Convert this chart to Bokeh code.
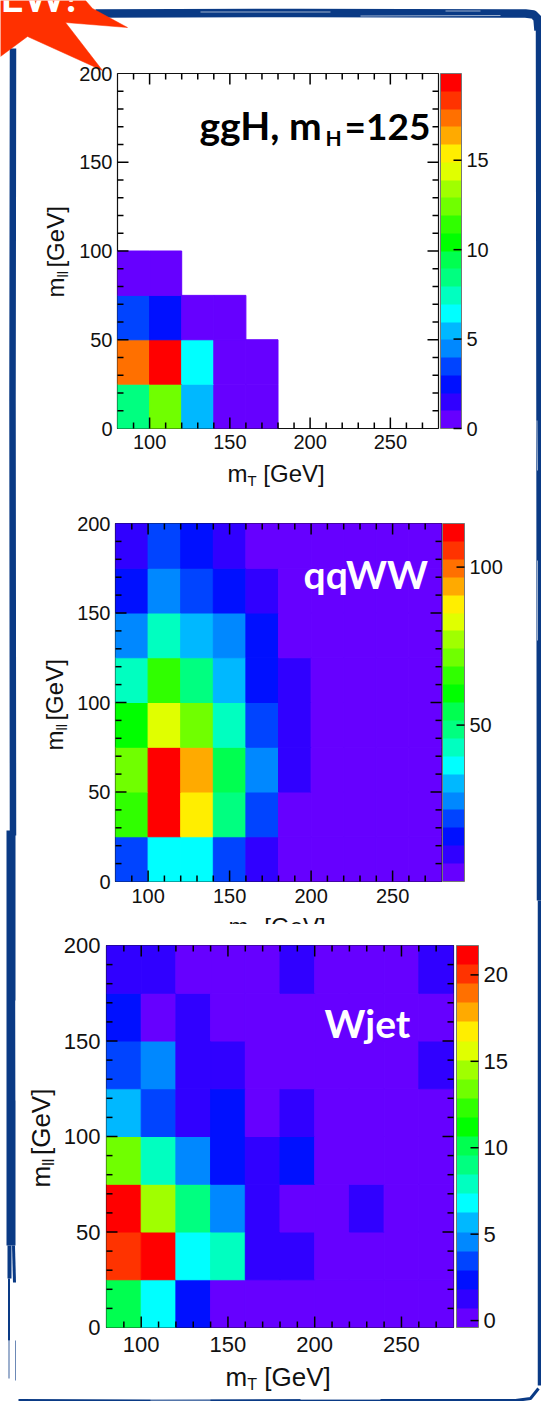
from bokeh.plotting import figure
from bokeh.embed import file_html
from bokeh.resources import INLINE
from bokeh.models import (ColorBar, LinearColorMapper, FixedTicker, LinearAxis,
                          ColumnDataSource)
from bokeh.core.properties import value
from bokeh.transform import transform
import math

PALETTE = ["#6600ff", "#3000ff", "#0010ff", "#0044ff", "#0088ff", "#00b8ff", "#00ffff",
           "#00ffc0", "#00ff80", "#00ff50", "#00ff00", "#30ff00", "#70ff00", "#a0ff00",
           "#e0ff00", "#ffee00", "#ffaa00", "#ff7000", "#ff3300", "#ff0000"]

MT_EDGES = [80, 100, 120, 140, 160, 180, 200, 220, 240, 260, 280]
MLL_EDGES = [0, 25, 50, 75, 100, 125, 150, 175, 200]
_ = None
# rows run from the lowest m_ll bin upward, columns from the lowest m_T bin
GGH = [
    [8.4, 12.4, 5.5, 0.5, 0.5, _, _, _, _, _],
    [17.4, 19.4, 6.4, 0.5, 0.5, _, _, _, _, _],
    [3.5, 2.5, 0.5, 0.5, _, _, _, _, _, _],
    [0.5, 0.5, _, _, _, _, _, _, _, _],
    [_, _, _, _, _, _, _, _, _, _],
    [_, _, _, _, _, _, _, _, _, _],
    [_, _, _, _, _, _, _, _, _, _],
    [_, _, _, _, _, _, _, _, _, _],
]
QQWW = [
    [20.3, 37.3, 37.3, 20.3, 9.0, 3.3, 3.3, 3.3, 3.3, 3.3],
    [65.7, 111, 88.3, 48.7, 20.3, 3.3, 3.3, 3.3, 3.3, 3.3],
    [71.3, 111, 94.0, 54.3, 26.0, 9.0, 3.3, 3.3, 3.3, 3.3],
    [60.0, 82.7, 71.3, 43.0, 20.3, 9.0, 3.3, 3.3, 3.3, 3.3],
    [43.0, 65.7, 48.7, 31.7, 14.7, 9.0, 3.3, 3.3, 3.3, 3.3],
    [26.0, 43.0, 31.7, 26.0, 14.7, 3.3, 3.3, 3.3, 3.3, 3.3],
    [14.7, 26.0, 20.3, 14.7, 9.0, 3.3, 3.3, 3.3, 3.3, 3.3],
    [9.0, 20.3, 14.7, 9.0, 3.3, 3.3, 3.3, 3.3, 3.3, 3.3],
]
WJET = [
    [10.1, 6.78, 2.36, 0.15, 0.15, 0.15, 0.15, 0.15, 0.15, 0.15],
    [20.0, 21.1, 6.78, 7.89, 1.26, 1.26, 0.15, 0.15, 0.15, 0.15],
    [21.1, 14.5, 8.99, 4.57, 1.26, 0.15, 0.15, 1.26, 0.15, 0.15],
    [13.4, 7.89, 4.57, 2.36, 1.26, 2.36, 0.15, 0.15, 0.15, 0.15],
    [5.68, 3.47, 1.26, 2.36, 0.15, 1.26, 0.15, 0.15, 0.15, 0.15],
    [3.47, 4.57, 1.26, 1.26, 0.15, 0.15, 0.15, 0.15, 0.15, 1.26],
    [2.36, 0.15, 1.26, 0.15, 0.15, 0.15, 0.15, 0.15, 0.15, 0.15],
    [1.26, 1.26, 0.15, 0.15, 0.15, 1.26, 0.15, 0.15, 0.15, 1.26],
]
MT_TICKS = [100, 150, 200, 250]
MLL_TICKS = [0, 50, 100, 150, 200]
MT_MINOR = [90, 110, 120, 130, 140, 160, 170, 180, 190, 210, 220, 230, 240, 260, 270]
MLL_MINOR = [10, 20, 30, 40, 60, 70, 80, 90, 110, 120, 130, 140, 160, 170, 180, 190]
GGH_Z = (0.0, 19.85)
QQWW_Z = (0.5, 113.8)
WJET_Z = (-0.4, 21.7)
GGH_ZTICKS = [0, 5, 10, 15]
QQWW_ZTICKS = [50, 100]
WJET_ZTICKS = [0, 5, 10, 15, 20]

SANS = value("Liberation Sans")
LATO = value("Lato")
# how far the page's baseline sits below the one asked for, per em
BASELINE_SHIFT = {"Liberation Sans": 0.33, "Lato": 0.45}
BLUE = "#0a3a85"
RED = "#ff3000"
INK = "#111111"
W, H = 541, 1401


def place(fig, left, top):
    fig.styles = {"position": "absolute", "left": f"{left}px", "top": f"{top}px"}


def page_figure():
    f = figure(width=W, height=H, x_range=(0, W), y_range=(H, 0), x_axis_type=None,
               y_axis_type=None, toolbar_location=None, output_backend="svg", min_border=0,
               background_fill_color=None, border_fill_color=None, outline_line_color=None)
    f.grid.visible = False
    place(f, 0, 0)
    return f


def pieces(f, x, y, parts, font, color=INK, angle=0.0, style="normal"):
    """Runs of text placed one after another, (text, size, drop, advance)."""
    ca, sa = math.cos(angle), math.sin(angle)
    k = BASELINE_SHIFT[font.value]
    for text, size, drop, adv in parts:
        d = drop - k * size
        f.text([x + d * sa], [y + d * ca], text=[text], text_font=font,
               text_font_size=f"{size}px", text_color=color, angle=angle,
               text_align="left", text_baseline="alphabetic", text_font_style=style)
        x += adv * ca
        y -= adv * sa


def xtitle(f, x, y, fs):
    pieces(f, x, y, [("m", fs, 0, 0.833 * fs), ("T", fs * 0.62, 4, 0.66 * fs),
                     ("[GeV]", fs, 0, 0)], SANS)


def ytitle(f, x, y, fs):
    pieces(f, x, y, [("m", fs, 0, 0.833 * fs), ("ll", fs * 0.62, 4, 0.415 * fs),
                     ("[GeV]", fs, 0, 0)], SANS, angle=math.pi / 2)


def panel(grid, zrange, zticks, frame, bar_w, bar_gap, tick_fs, bar_fs, standoff):
    fx, fy, fw, fh = frame
    pad_top = 30
    p = figure(frame_width=fw, frame_height=fh, x_range=(80, 280), y_range=(0, 200),
               x_axis_type=None, y_axis_type=None, toolbar_location=None, output_backend="svg",
               min_border_left=fx, min_border_top=pad_top, min_border_right=W - fx - fw,
               min_border_bottom=45, background_fill_color=None, border_fill_color=None,
               outline_line_color=INK, outline_line_width=1.2)
    p.grid.visible = False
    place(p, 0, fy - pad_top)
    mapper = LinearColorMapper(palette=PALETTE, low=zrange[0], high=zrange[1])
    cells = dict(l=[], r=[], b=[], t=[], v=[])
    for j, row in enumerate(grid):
        for i, v in enumerate(row):
            if v is None:
                continue
            cells["l"].append(MT_EDGES[i]); cells["r"].append(MT_EDGES[i + 1])
            cells["b"].append(MLL_EDGES[j]); cells["t"].append(MLL_EDGES[j + 1])
            cells["v"].append(v)
    p.quad(left="l", right="r", bottom="b", top="t", source=ColumnDataSource(cells),
           fill_color=transform("v", mapper), line_color=transform("v", mapper), line_width=1)

    # the axes give the labels; the inward ticks go on the top layer
    def ax(ticks, off):
        a = LinearAxis(ticker=FixedTicker(ticks=ticks))
        a.major_tick_in = a.major_tick_out = a.minor_tick_in = a.minor_tick_out = 0
        a.major_tick_line_color = None
        a.minor_tick_line_color = None
        a.axis_line_color = None
        a.major_label_text_font = "Liberation Sans"
        a.major_label_text_font_size = f"{tick_fs}px"
        a.major_label_text_color = INK
        a.major_label_standoff = off
        return a

    p.add_layout(ax(MT_TICKS, standoff[0]), "below")
    p.add_layout(ax(MLL_TICKS, standoff[1]), "left")

    cb = ColorBar(color_mapper=mapper, ticker=FixedTicker(ticks=zticks), width=bar_w, height=fh,
                  location=(fw + bar_gap, 0), margin=0, padding=0, major_tick_in=0,
                  major_tick_line_color=None, minor_tick_line_color=None,
                  bar_line_color="#777777", border_line_color=None, background_fill_color=None,
                  major_label_text_font="Liberation Sans", major_label_text_font_size=f"{bar_fs}px",
                  major_label_text_color=INK, label_standoff=5)
    p.add_layout(cb, "center")
    return p


def frame_ticks(f, frame):
    """Inward ticks on all four sides of a panel, from the tick values."""
    fx, fy, fw, fh = frame
    for ticks, ln in ((MT_TICKS, 11), (MT_MINOR, 6)):
        for t in ticks:
            x = fx + (t - 80) / 200 * fw
            f.line([x, x], [fy + fh, fy + fh - ln], line_color="#000000", line_width=1.5, level="overlay")
            f.line([x, x], [fy, fy + ln], line_color="#000000", line_width=1.5, level="overlay")
    for ticks, ln in ((MLL_TICKS[1:-1], 11), (MLL_MINOR, 6)):
        for t in ticks:
            y = fy + fh - t / 200 * fh
            f.line([fx, fx + ln], [y, y], line_color="#000000", line_width=1.5, level="overlay")
            f.line([fx + fw, fx + fw - ln], [y, y], line_color="#000000", line_width=1.5, level="overlay")


def bar_ticks(f, zrange, zticks, frame, bar_w, bar_gap, length=8):
    """Inward colour-bar ticks, from the z values through the bar's own scale."""
    fx, fy, fw, fh = frame
    right = fx + fw + bar_gap + bar_w
    for z in zticks:
        y = fy + fh - (z - zrange[0]) / (zrange[1] - zrange[0]) * fh
        f.line([right - length, right], [y, y], line_color="#000000", line_width=1.5, level="overlay")


# ------------------------ page furniture below the panels
bg = page_figure()
strokes = [
    ([95, 300, 525, 533, 537, 538], [13, 12.5, 13, 14, 18, 30], 8.5),
    ([538, 538.5, 539], [24, 400, 900], 5.5),
    ([539, 539, 539], [900, 1100, 1385], 3.5),
    ([18, 150, 330, 515, 530, 538], [1400, 1400.5, 1400, 1400, 1398, 1388], 3),
    ([12.5, 12, 12.5], [48, 400, 835], 6.5),
    ([10.5, 10.5], [830, 1245], 9),
    ([9, 9], [1245, 1278], 4),
    ([13, 14], [1245, 1282], 3),
    ([8.5, 8.5], [1278, 1340], 2),
]
for xs, ys, lw in strokes:
    bg.line(xs, ys, line_color=BLUE, line_width=lw, line_join="round")
bg.line([8.5, 8.5], [1340, 1378], line_color=BLUE, line_width=1, line_alpha=0.8)
bg.line([15, 15], [1340, 1380], line_color=BLUE, line_width=1, line_alpha=0.6)
streaks = [
    ([200, 330], [11.5, 11.5]), ([360, 500], [15.5, 15]), ([445, 480], [10.5, 10.5]),
    ([15, 15.5], [1000, 1100]), ([536.5, 537], [420, 470]), ([537, 537], [560, 640]),
    ([150, 210], [1399.5, 1399.5]), ([300, 380], [1399, 1399]),
]
for xs, ys in streaks:
    bg.line(xs, ys, line_color="white", line_width=1, line_alpha=0.6)

bg.patch([0, 85, 92, 127, 65, 102, 27, 0], [0, 0, 8, 27, 22, 70, 36, 56], fill_color=RED,
         line_color=RED, line_width=0.5)
pieces(bg, 0, 14, [("EW!", 40, 0, 0)], LATO, color="white", style="bold")

xtitle(bg, 227, 481, 24)
ytitle(bg, 63, 297, 24)
xtitle(bg, 228, 934, 24)
ytitle(bg, 62, 750, 24)
# the third plot was pasted over the foot of the second one
bg.quad(left=[190], right=[360], top=[924], bottom=[943], fill_color="white", line_color="white")
xtitle(bg, 225, 1385, 26)
ytitle(bg, 49, 1187, 26)

FRAME1, FRAME2, FRAME3 = (117, 73, 321, 355), (115, 523, 326, 358), (106, 945, 347, 382)
p1 = panel(GGH, GGH_Z, GGH_ZTICKS, FRAME1, 21, 2, 20, 20, (6, 5))
p2 = panel(QQWW, QQWW_Z, QQWW_ZTICKS, FRAME2, 22, 1, 20, 20, (7, 5))
p3 = panel(WJET, WJET_Z, WJET_ZTICKS, FRAME3, 22, 3, 22, 22, (9, 6))

# ------------------------ titles and ticks above the panels
top = page_figure()
for fr in (FRAME1, FRAME2, FRAME3):
    frame_ticks(top, fr)
bar_ticks(top, GGH_Z, GGH_ZTICKS, FRAME1, 21, 2)
bar_ticks(top, QQWW_Z, QQWW_ZTICKS, FRAME2, 22, 1)
bar_ticks(top, WJET_Z, WJET_ZTICKS, FRAME3, 22, 3)
pieces(top, 199, 142, [("ggH, m", 39, 0, 126), ("H", 21, 4, 19), ("=125", 37, 0, 0)], LATO,
       color="#000000", style="bold")
pieces(top, 303, 591, [("qqWW", 39, 0, 0)], LATO, color="white", style="bold")
pieces(top, 324, 1040, [("Wjet", 39, 0, 0)], LATO, color="white", style="bold")

open("out.html", "w").write(file_html([bg, p1, p2, p3, top], INLINE))
